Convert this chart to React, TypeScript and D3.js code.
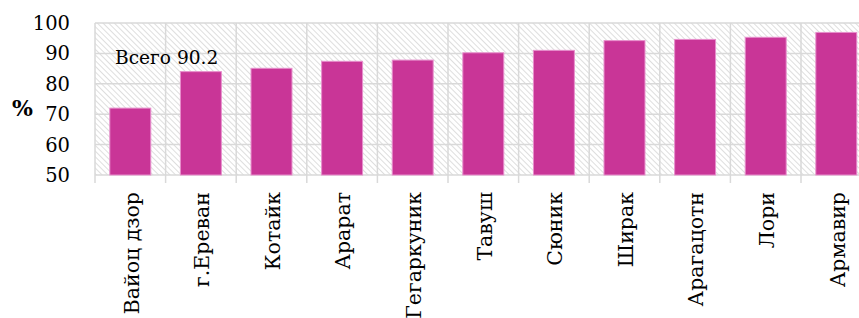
import React from 'react'
import * as d3 from 'd3'

const regions = ['Вайоц дзор', 'г.Ереван', 'Котайк', 'Арарат', 'Гегаркуник', 'Тавуш', 'Сюник', 'Ширак', 'Арагацотн', 'Лори', 'Армавир']
const shares = [72, 84, 85.1, 87.4, 87.8, 90.2, 91.0, 94.2, 94.6, 95.3, 96.9]
const yTicks = [50, 60, 70, 80, 90, 100]
const totalLabel = 'Всего 90.2'

const W = 859
const H = 318
const left = 95
const top = 23
const bottom = 175
const step = 70.6

const font = 'DejaVu Serif'

export default function App() {
  // band scale runs past the right edge, the picture is cropped there
  const x = d3
    .scaleBand<string>()
    .domain(regions)
    .range([left, left + step * regions.length])
    .paddingInner(0.42)
    .paddingOuter(0.21)

  const y = d3.scaleLinear().domain([50, 100]).range([bottom, top])

  const bounds = d3.range(regions.length + 1).map(i => left + i * x.step())

  return (
    <svg width={W} height={H} style={{ position: 'absolute', left: 0, top: 0 }}>
      <defs>
        <pattern id="hatch" width={4} height={4} patternUnits="userSpaceOnUse" patternTransform="rotate(-45)">
          <rect width={4} height={4} fill="#ffffff" />
          <line x1={0} y1={0} x2={0} y2={4} stroke="#d0d0d0" strokeWidth={1.4} />
        </pattern>
      </defs>

      {/* plot background */}
      <rect x={left} y={top} width={W - left} height={bottom - top} fill="url(#hatch)" />

      {/* horizontal grid */}
      {yTicks.map(t => (
        <line key={t} x1={left} x2={W} y1={y(t)} y2={y(t)} stroke="#d9d9d9" strokeWidth={1.5} />
      ))}

      {/* vertical grid + ticks under the axis */}
      {bounds.map((b, i) => (
        <line key={i} x1={b} x2={b} y1={top} y2={bottom + 8} stroke="#d9d9d9" strokeWidth={1.5} />
      ))}

      {/* bars */}
      {regions.map((r, i) => (
        <rect
          key={r}
          x={x(r)}
          y={y(shares[i])}
          width={x.bandwidth()}
          height={bottom - y(shares[i])}
          fill="#c93597"
          stroke="#e78fcc"
          strokeWidth={1}
        />
      ))}

      {/* y tick labels */}
      {yTicks.map(t => (
        <text key={t} x={70} y={y(t)} dy="0.36em" textAnchor="end" fontSize={19.5} fontFamily={font} fill="#000">
          {t}
        </text>
      ))}

      <text x={22.5} y={y(70) - 6} dy="0.36em" textAnchor="middle" fontSize={22} fontWeight="bold" fontFamily={font} fill="#000">
        %
      </text>

      <text x={115} y={57} dy="0.36em" fontSize={18.6} fontFamily={font} fill="#000">
        {totalLabel}
      </text>

      {/* category labels */}
      {regions.map(r => {
        const cx = (x(r) ?? 0) + x.bandwidth() / 2
        return (
          <text
            key={r}
            transform={`translate(${cx + 1},${192}) rotate(-90)`}
            dy="0.36em"
            textAnchor="end"
            fontSize={20.5}
            fontFamily={font}
            fill="#000"
          >
            {r}
          </text>
        )
      })}
    </svg>
  )
}
